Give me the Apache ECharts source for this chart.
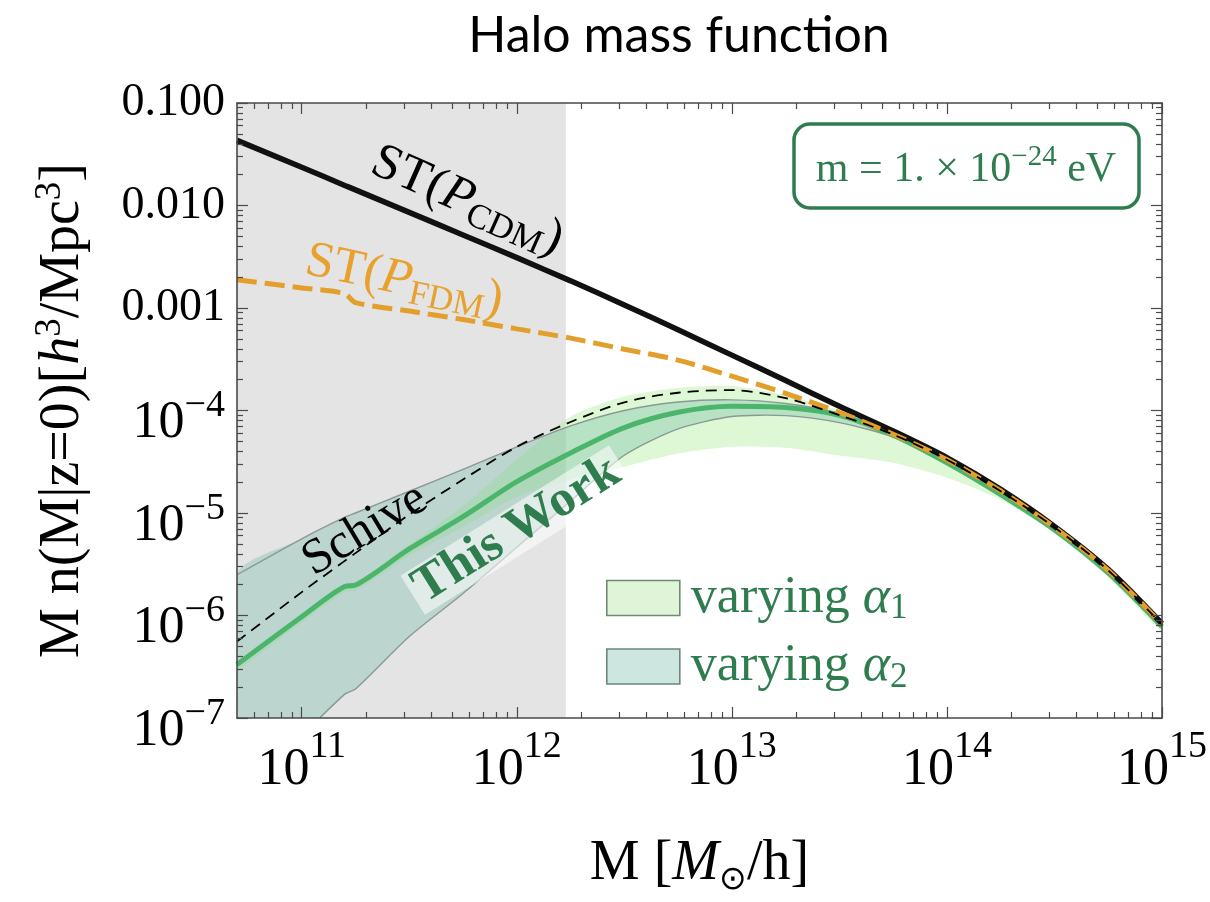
<!DOCTYPE html>
<html>
<head>
<meta charset="utf-8">
<title>Halo mass function</title>
<script src="https://cdn.jsdelivr.net/npm/echarts@6.0.0/dist/echarts.min.js"></script>
<style>
  html, body { margin: 0; padding: 0; background: #ffffff; }
  #chart { width: 1210px; height: 902px; }
</style>
</head>
<body>
<div id="chart"></div>
<script>
// Halo masses M [M_sun/h] at which every curve is tabulated
const haloMass = [5e10, 1e11, 1.585e11, 1.778e11, 3.162e11, 5.623e11, 1e12, 1.778e12, 3.162e12,
  5.623e12, 1e13, 1.778e13, 3.162e13, 5.623e13, 1e14, 1.778e14, 3.162e14, 5.623e14, 1e15];

// M n(M|z=0) [h^3/Mpc^3]
const stCDM = [0.0432, 0.0236, 0.0157, 0.0142, 0.00857, 0.00516, 0.00310, 0.00184, 0.00107,
  6.12e-4, 3.47e-4, 1.96e-4, 1.10e-4, 6.31e-5, 3.47e-5, 1.70e-5, 7.41e-6, 2.82e-6, 8.32e-7];
const stFDM = [1.89e-3, 1.57e-3, 1.38e-3, 1.13e-3, 9.33e-4, 7.71e-4, 6.26e-4, 5.08e-4, 3.96e-4,
  3.10e-4, 2.16e-4, 1.47e-4, 9.57e-5, 5.86e-5, 3.31e-5, 1.64e-5, 7.24e-6, 2.75e-6, 8.22e-7];
const schive = [5.58e-7, 1.69e-6, 3.41e-6, 4.06e-6, 9.64e-6, 2.12e-5, 4.43e-5, 7.73e-5, 1.20e-4,
  1.49e-4, 1.58e-4, 1.32e-4, 9.02e-5, 5.82e-5, 3.31e-5, 1.63e-5, 7.24e-6, 2.75e-6, 8.13e-7];
const thisWork = [3.32e-7, 9.72e-7, 1.92e-6, 1.98e-6, 4.46e-6, 9.20e-6, 2.02e-5, 3.85e-5, 6.82e-5,
  9.61e-5, 1.10e-4, 1.07e-4, 8.99e-5, 5.75e-5, 3.09e-5, 1.51e-5, 6.84e-6, 2.60e-6, 7.76e-7];

// Spread of the fit when alpha_1 or alpha_2 is varied
const alpha1Upper = [3.44e-7, 1.01e-6, 2.01e-6, 2.08e-6, 4.89e-6, 1.17e-5, 3.31e-5, 8.71e-5, 1.37e-4,
  1.66e-4, 1.73e-4, 1.41e-4, 9.95e-5, 6.17e-5, 3.39e-5, 1.66e-5, 7.24e-6, 2.75e-6, 8.13e-7];
const alpha1Lower = [2.94e-7, 8.66e-7, 1.70e-6, 1.74e-6, 3.82e-6, 7.33e-6, 1.44e-5, 2.11e-5, 2.83e-5,
  3.80e-5, 4.43e-5, 4.32e-5, 3.63e-5, 3.09e-5, 2.21e-5, 1.35e-5, 6.41e-6, 2.36e-6, 6.92e-7];
const alpha2Upper = [2.50e-6, 5.60e-6, 9.10e-6, 1.00e-5, 1.63e-5, 2.67e-5, 4.42e-5, 7.08e-5, 1.00e-4,
  1.21e-4, 1.27e-4, 1.17e-4, 9.35e-5, 6.03e-5, 3.20e-5, 1.55e-5, 7.00e-6, 2.66e-6, 7.85e-7];
const alpha2Lower = [1.6e-8, 6.7e-8, 1.71e-7, 1.92e-7, 6.24e-7, 1.64e-6, 4.63e-6, 1.31e-5, 3.66e-5,
  6.62e-5, 8.73e-5, 8.91e-5, 7.62e-5, 5.50e-5, 2.99e-5, 1.47e-5, 6.76e-6, 2.57e-6, 7.67e-7];

// Masses below this limit are shaded
const shadedMassLimit = 1.69e12;

// Axis ranges and ticks
const massRange = [5e10, 1e15];
const densityRange = [1e-7, 0.1];
const massMajorTicks = [1e11, 1e12, 1e13, 1e14, 1e15];
const densityMajorTicks = [1e-7, 1e-6, 1e-5, 1e-4, 1e-3, 1e-2, 1e-1];

function minorTicksBetween(lo, hi) {
  const out = [];
  for (let d = Math.floor(Math.log10(lo)); d < Math.ceil(Math.log10(hi)); d++) {
    for (let k = 2; k <= 9; k++) {
      const v = k * Math.pow(10, d);
      if (v > lo * 1.0001 && v < hi * 0.9999) out.push(v);
    }
  }
  return out;
}
const massMinorTicks = minorTicksBetween(massRange[0], massRange[1]);
const densityMinorTicks = minorTicksBetween(densityRange[0], densityRange[1]);

const SERIF = '"Liberation Serif", "Times New Roman", serif';
const TEXT_GREEN = '#2f7d4f';
const FRAME = '#4a4a4a';

const pairs = ys => haloMass.map((m, i) => [m, ys[i]]);

// Tick-label rich styles: decimals, and base "10" with a raised exponent
function powerRich(supDrop) {
  return {
    d: { fontSize: 46, fontFamily: SERIF, color: '#000', lineHeight: 46 },
    e: { fontSize: 52, fontFamily: SERIF, color: '#000', lineHeight: 78, verticalAlign: 'bottom' },
    s: { fontSize: 38, fontFamily: SERIF, color: '#000', lineHeight: 38, verticalAlign: 'top',
         padding: [supDrop, 0, 0, 0] }
  };
}

function tickAxis(dim, position, ticks, length, extra) {
  const range = dim === 'x' ? massRange : densityRange;
  return Object.assign({
    // the tiny widening keeps the end ticks inside the scale extent after log rounding
    type: 'log', logBase: 10, min: range[0] * (1 - 1e-9), max: range[1] * (1 + 1e-9),
    position: position, z: 10,
    axisLine: { show: false, onZero: false },
    splitLine: { show: false },
    minorTick: { show: false },
    axisTick: { show: true, inside: true, length: length, customValues: ticks,
      lineStyle: { color: FRAME, width: 1.2 } },
    axisLabel: { show: false }
  }, extra || {});
}
const frameLine = { show: true, onZero: false, lineStyle: { color: FRAME, width: 1.6 } };

const xAxes = [
  tickAxis('x', 'bottom', massMajorTicks, 11, {
    axisLine: frameLine,
    axisLabel: {
      show: true, customValues: massMajorTicks, margin: 0, showMinLabel: true, showMaxLabel: true,
      formatter: v => '{e|10}{s|' + Math.round(Math.log10(v)) + '}',
      rich: powerRich(10)
    },
    name: 'M [{i|M}{o|\u2299}/h]', nameLocation: 'middle', nameGap: 113,
    nameTextStyle: {
      fontSize: 56, fontFamily: SERIF, color: '#000', lineHeight: 66,
      rich: {
        i: { fontSize: 56, fontFamily: SERIF, fontStyle: 'italic', color: '#000', lineHeight: 66 },
        o: { fontSize: 33, fontFamily: SERIF, color: '#000', lineHeight: 22, verticalAlign: 'bottom' }
      }
    }
  }),
  tickAxis('x', 'bottom', massMinorTicks, 6),
  tickAxis('x', 'top', massMajorTicks, 11, { axisLine: frameLine }),
  tickAxis('x', 'top', massMinorTicks, 6)
];

const yAxes = [
  tickAxis('y', 'left', densityMajorTicks, 11, {
    axisLine: frameLine,
    axisLabel: {
      show: true, customValues: densityMajorTicks, margin: 12, showMinLabel: true, showMaxLabel: true,
      formatter: v => {
        const e = Math.round(Math.log10(v));
        return e >= -3 ? '{d|' + Math.pow(10, e).toFixed(3) + '}'
                       : '{e|10}{s|\u2212' + (-e) + '}';
      },
      rich: powerRich(16)
    },
    name: 'M n(M|z=0)[{i|h}{s|3}/Mpc{s|3}]', nameLocation: 'middle', nameRotate: 90, nameGap: 143,
    nameTextStyle: {
      fontSize: 56, fontFamily: SERIF, color: '#000', lineHeight: 62,
      rich: {
        i: { fontSize: 56, fontFamily: SERIF, fontStyle: 'italic', color: '#000', lineHeight: 62 },
        s: { fontSize: 37, fontFamily: SERIF, color: '#000', lineHeight: 30, verticalAlign: 'top' }
      }
    }
  }),
  tickAxis('y', 'left', densityMinorTicks, 6),
  tickAxis('y', 'right', densityMajorTicks, 11, { axisLine: frameLine }),
  tickAxis('y', 'right', densityMinorTicks, 6)
];

const curve = { type: 'line', symbol: 'none', smooth: 0.3, silent: true, clip: true };

// A filled band between two tabulated edges, drawn once through the grid's coordinate mapping
function bandSeries(name, upper, lower, fill, edgeColor, z) {
  return {
    type: 'custom', name: name, z: z, silent: true, clip: true,
    data: haloMass.map((m, i) => [m, upper[i], lower[i]]),
    encode: { x: 0, y: [1, 2] },
    renderItem: (params, api) => {
      if (params.dataIndex !== 0) return null;
      const top = haloMass.map((m, i) => api.coord([m, upper[i]]));
      const bottom = haloMass.map((m, i) => api.coord([m, lower[i]]));
      const children = [{
        type: 'polygon', shape: { points: top.concat(bottom.slice().reverse()), smooth: 0.25 },
        style: { fill: fill, stroke: null }
      }];
      if (edgeColor) {
        [top, bottom].forEach(pts => children.push({
          type: 'polyline', shape: { points: pts, smooth: 0.25 },
          style: { fill: null, stroke: edgeColor, lineWidth: 1.4 }
        }));
      }
      return { type: 'group', children: children };
    }
  };
}

const series = [
  // shaded low-mass region
  Object.assign({}, curve, {
    name: 'shaded', data: pairs(stCDM), z: 1, lineStyle: { opacity: 0 },
    markArea: {
      silent: true, itemStyle: { color: '#e4e4e4' },
      data: [[{ coord: [massRange[0], densityRange[0]] }, { coord: [shadedMassLimit, densityRange[1]] }]]
    }
  }),
  bandSeries('varying \u03b11', alpha1Upper, alpha1Lower, 'rgba(176,236,156,0.42)', null, 2),
  bandSeries('varying \u03b12', alpha2Upper, alpha2Lower, 'rgba(96,178,158,0.30)', '#8a9995', 3),
  Object.assign({}, curve, { name: 'This Work', z: 4, data: pairs(thisWork),
    lineStyle: { color: '#4bb56c', width: 5 } }),
  Object.assign({}, curve, { name: 'ST(P_CDM)', z: 5, data: pairs(stCDM),
    lineStyle: { color: '#111111', width: 5.5 } }),
  Object.assign({}, curve, { name: 'ST(P_FDM)', z: 6, data: pairs(stFDM),
    lineStyle: { color: '#e39f2c', width: 5, type: [20, 8] } }),
  Object.assign({}, curve, { name: 'Schive', z: 7, data: pairs(schive),
    lineStyle: { color: '#000000', width: 1.8, type: [11, 7] } })
];

const legendFont = { fontSize: 52, fontFamily: SERIF, color: TEXT_GREEN, lineHeight: 35 };

const deg = a => a * Math.PI / 180;
function curveLabel(x, y, angle, text, fill, size, rich, extra) {
  return {
    type: 'text', x: x, y: y, rotation: deg(angle), z: 100, silent: true,
    style: Object.assign({
      text: text, fill: fill, fontSize: size, fontFamily: SERIF,
      align: 'center', verticalAlign: 'middle', textAlign: 'center', textVerticalAlign: 'middle',
      rich: rich
    }, extra || {})
  };
}
const stRich = fill => ({
  n: { fontSize: 51, fontFamily: SERIF, fill: fill, lineHeight: 58 },
  i: { fontSize: 51, fontFamily: SERIF, fontStyle: 'italic', fill: fill, lineHeight: 58 },
  b: { fontSize: 35, fontFamily: SERIF, fill: fill, lineHeight: 26, verticalAlign: 'bottom' }
});

const option = {
  animation: false,
  backgroundColor: '#ffffff',
  grid: { left: 237, right: 48, top: 103, bottom: 184, containLabel: false },
  xAxis: xAxes,
  yAxis: yAxes,
  legend: {
    left: 606, top: 572, padding: 0, orient: 'vertical', itemWidth: 73, itemHeight: 35, itemGap: 14,
    selectedMode: false,
    data: [
      { name: 'varying \u03b11', icon: 'rect',
        itemStyle: { color: '#e0f5d8', borderColor: '#6f8a73', borderWidth: 1.6 } },
      { name: 'varying \u03b12', icon: 'rect',
        itemStyle: { color: '#cde6df', borderColor: '#6c8680', borderWidth: 1.6 } }
    ],
    formatter: name => '{v|varying }{a|\u03b1}{s|' + name.slice(-1) + '}',
    textStyle: Object.assign({}, legendFont, {
      padding: [0, 0, 0, 6],
      rich: {
        v: Object.assign({}, legendFont),
        a: Object.assign({}, legendFont, { fontStyle: 'italic' }),
        s: { fontSize: 35, fontFamily: SERIF, color: TEXT_GREEN, lineHeight: 35, verticalAlign: 'top',
             padding: [11, 0, 0, 0] }
      }
    })
  },
  series: series,
  graphic: [
    {
      type: 'text', x: 679, y: 36, z: 100, silent: true,
      style: { text: 'Halo mass function', fill: '#000', fontSize: 50, fontFamily: 'Lato, "Open Sans", sans-serif',
        align: 'center', verticalAlign: 'middle', textAlign: 'center', textVerticalAlign: 'middle' }
    },
    curveLabel(467, 201, -24, '{n|ST(}{i|P}{b|CDM}{n|)}', '#000', 51, stRich('#000')),
    curveLabel(404, 281, -12, '{n|ST(}{i|P}{b|FDM}{n|)}', '#e8a12e', 51, stRich('#e8a12e')),
    curveLabel(365, 530, 31, 'Schive', '#000', 50, null),
    curveLabel(517, 530, 32, 'This Work', TEXT_GREEN, 51, null, {
      fontWeight: 'bold', backgroundColor: 'rgba(255,255,255,0.55)', padding: [0, 6, 0, 6], lineHeight: 46
    }),
    { type: 'rect', z: 100, silent: true, shape: { x: 794, y: 124, width: 345, height: 84, r: 16 },
      style: { fill: '#ffffff', stroke: TEXT_GREEN, lineWidth: 3.5 } },
    { type: 'text', x: 966, y: 167, z: 101, silent: true,
      style: {
        text: '{n|m = 1. \u00d7 10}{s|\u221224}{n| eV}', fill: TEXT_GREEN,
        align: 'center', verticalAlign: 'middle', textAlign: 'center', textVerticalAlign: 'middle',
        rich: {
          n: { fontSize: 42, fontFamily: SERIF, fill: TEXT_GREEN, lineHeight: 48, verticalAlign: 'bottom' },
          s: { fontSize: 29, fontFamily: SERIF, fill: TEXT_GREEN, lineHeight: 30, verticalAlign: 'top' }
        }
      } }
  ]
};

const chart = echarts.init(document.getElementById('chart'), null, { renderer: 'canvas' });
chart.setOption(option);
</script>
</body>
</html>
